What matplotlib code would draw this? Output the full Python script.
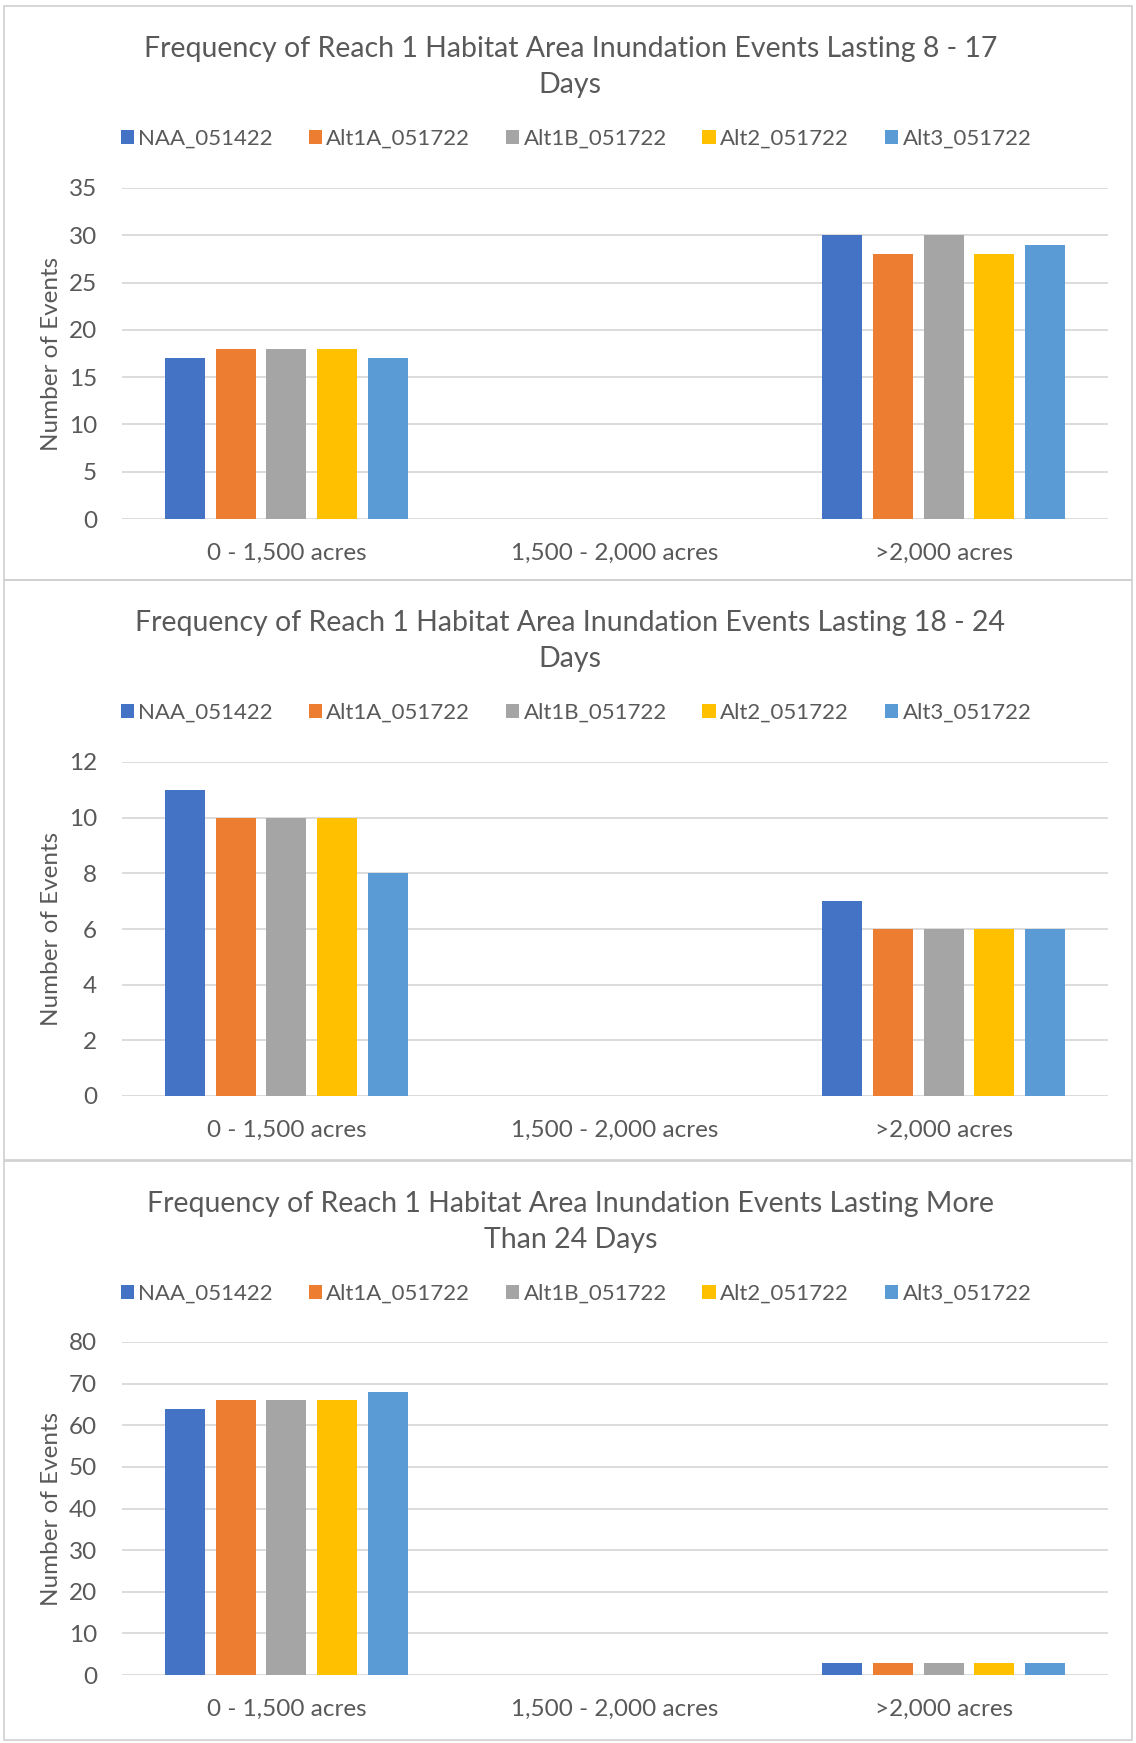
import matplotlib as mpl
mpl.use('Agg')
import numpy as np
import matplotlib.pyplot as plt
from matplotlib.patches import Rectangle

plt.rcParams['font.family'] = ['Lato', 'DejaVu Sans']

categories = ['0 - 1,500 acres', '1,500 - 2,000 acres', '>2,000 acres']
series = ['NAA_051422', 'Alt1A_051722', 'Alt1B_051722', 'Alt2_051722', 'Alt3_051722']
colors = ['#4472c4', '#ed7d31', '#a5a5a5', '#ffc000', '#5b9bd5']

titles = [
    'Frequency of Reach 1 Habitat Area Inundation Events Lasting 8 - 17\nDays',
    'Frequency of Reach 1 Habitat Area Inundation Events Lasting 18 - 24\nDays',
    'Frequency of Reach 1 Habitat Area Inundation Events Lasting More\nThan 24 Days',
]

# values per panel: rows = series, cols = categories
vals_8_17 = [[17, 0, 30], [18, 0, 28], [18, 0, 30], [18, 0, 28], [17, 0, 29]]
vals_18_24 = [[11, 0, 7], [10, 0, 6], [10, 0, 6], [10, 0, 6], [8, 0, 6]]
vals_24_plus = [[64, 0, 3], [66, 0, 3], [66, 0, 3], [66, 0, 3], [68, 0, 3]]

panel_vals = [vals_8_17, vals_18_24, vals_24_plus]
ymax = [35, 12, 80]
ystep = [5, 2, 10]

W, H = 1136, 1743
fig = plt.figure(figsize=(W / 100, H / 100), dpi=100)

txt = '#595959'
grid = '#d9d9d9'

# panel layout in pixels: (border top, border bottom, axes top, axes bottom)
panels = [
    (6, 580, 188, 519),
    (580, 1160, 762, 1096),
    (1161, 1740, 1342, 1675),
]
ax_left, ax_right = 122, 1108

for i, (bt, bb, at, ab) in enumerate(panels):
    fig.patches.append(Rectangle((4 / W, 1 - bb / H), (1132 - 4) / W, (bb - bt) / H,
                                 transform=fig.transFigure, fill=False,
                                 edgecolor='#d0d0d0', linewidth=1.2))
    ax = fig.add_axes([ax_left / W, 1 - ab / H, (ax_right - ax_left) / W, (ab - at) / H])
    data = np.array(panel_vals[i])
    x = np.arange(len(categories))
    pitch = 0.154
    width = 0.122
    for j, name in enumerate(series):
        ax.bar(x + (j - 2) * pitch, data[j], width, color=colors[j], label=name, zorder=3)
    ax.set_xlim(-0.5, 2.5)
    ax.set_ylim(0, ymax[i])
    ax.set_yticks(np.arange(0, ymax[i] + 1, ystep[i]))
    ax.set_xticks(x)
    ax.set_xticklabels(categories)
    ax.yaxis.grid(True, color=grid, linewidth=1.3, zorder=0)
    for s in ax.spines.values():
        s.set_visible(False)
    ax.tick_params(axis='both', length=0, colors=txt, labelsize=17.5)
    ax.tick_params(axis='y', pad=18)
    ax.tick_params(axis='x', pad=17)
    ax.set_ylabel('Number of Events', fontsize=17.5, color=txt)
    ax.yaxis.set_label_coords(-(ax_left - 62) / (ax_right - ax_left), 0.5)

    fig.text(0.502, 1 - (bt + 61) / H, titles[i], ha='center', va='center',
             fontsize=20.5, color=txt, linespacing=1.45)
    fig.legend(*ax.get_legend_handles_labels(), loc='center',
               bbox_to_anchor=(0.507, 1 - (bt + 133) / H), ncol=5, frameon=False,
               fontsize=16, handlelength=0.6, handleheight=0.6, handletextpad=0.2,
               columnspacing=1.6, labelcolor=txt)

fig.savefig('out.png', dpi=100)
